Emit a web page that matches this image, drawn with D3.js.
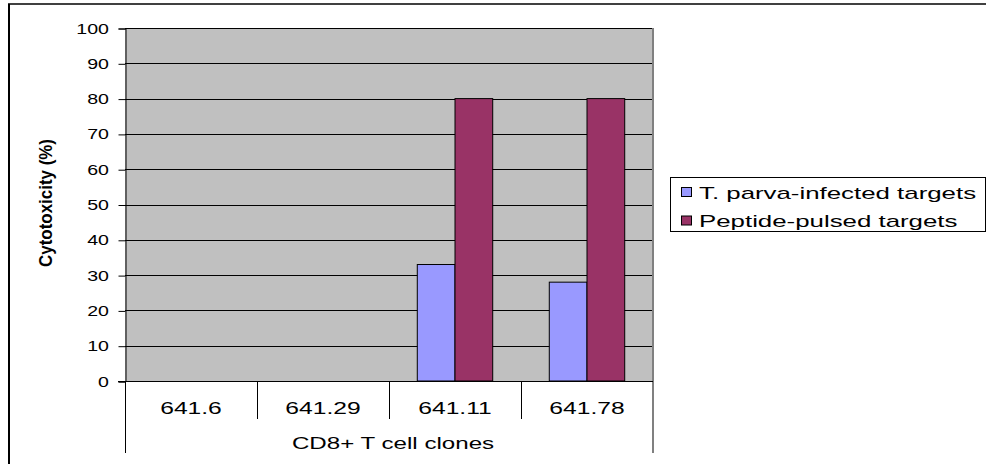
<!DOCTYPE html>
<html>
<head>
<meta charset="utf-8">
<script src="https://cdn.jsdelivr.net/npm/d3@7"></script>
<style>
  html, body { margin: 0; padding: 0; background: #fff; }
  svg { display: block; font-family: "Liberation Sans", Arial, sans-serif; }
</style>
</head>
<body>
<svg id="chart" width="986" height="464"></svg>
<script>
// Cytotoxicity of CD8+ T cell clones against two kinds of targets
const categories = ["641.6", "641.29", "641.11", "641.78"];
const seriesNames = ["T. parva-infected targets", "Peptide-pulsed targets"];
const infectedValues = [0, 0, 33, 28];
const peptideValues = [0, 0, 80, 80];
const yTicks = [0, 10, 20, 30, 40, 50, 60, 70, 80, 90, 100];
const colors = ["#9999FF", "#993366"];

const svg = d3.select("#chart");
const plot = { left: 125, top: 28, right: 653, bottom: 381 };

// text in this chart is drawn horizontally widened
function wideText(parent, x, y, str, size, sx, anchor) {
  return parent.append("text")
    .attr("transform", `translate(${x},${y}) scale(${sx},1)`)
    .attr("text-anchor", anchor || "start")
    .attr("font-size", size)
    .attr("fill", "#000")
    .text(str);
}

// outer frame (cropped at right and bottom)
svg.append("line").attr("x1", 8).attr("x2", 986).attr("y1", 4).attr("y2", 4)
  .attr("stroke", "#000").attr("stroke-width", 1.5);
svg.append("line").attr("x1", 9).attr("x2", 9).attr("y1", 4).attr("y2", 464)
  .attr("stroke", "#000").attr("stroke-width", 2);

const x = d3.scaleBand().domain(categories).range([plot.left, plot.right]).padding(0);
const xs = d3.scaleBand().domain(seriesNames).range([0, x.bandwidth()])
  .paddingInner(0).paddingOuter(0.75);
const y = d3.scaleLinear().domain([0, 100]).range([plot.bottom, plot.top]);

// plot background
svg.append("rect").attr("x", plot.left).attr("y", plot.top)
  .attr("width", plot.right - plot.left).attr("height", plot.bottom - plot.top)
  .attr("fill", "#C0C0C0");

// horizontal gridlines
svg.append("g").selectAll("line").data(yTicks.filter(d => d > 0)).join("line")
  .attr("x1", plot.left).attr("x2", plot.right)
  .attr("y1", d => Math.round(y(d)) + 0.5).attr("y2", d => Math.round(y(d)) + 0.5)
  .attr("stroke", "#000").attr("stroke-width", 1);

// y axis
const yAxis = d3.axisLeft(y).tickValues(yTicks).tickSize(7).tickFormat(() => "");
const gy = svg.append("g").attr("transform", `translate(${plot.left + 0.5},0.5)`).call(yAxis);
gy.select(".domain").attr("stroke", "#000");
gy.selectAll(".tick line").attr("stroke", "#000");
gy.selectAll(".tick text").remove();
const tickLabels = svg.append("g");
yTicks.forEach(t => wideText(tickLabels, 109, y(t) + 5.5, String(t), 14.5, 1.35, "end"));

// bars
const rows = categories.map((c, i) => ({ cat: c, vals: [infectedValues[i], peptideValues[i]] }));
const groups = svg.append("g").selectAll("g").data(rows).join("g")
  .attr("transform", d => `translate(${x(d.cat)},0)`);
groups.selectAll("rect")
  .data(d => d.vals.map((v, j) => ({ name: seriesNames[j], v, j })).filter(e => e.v > 0))
  .join("rect")
  .attr("x", d => xs(d.name))
  .attr("width", xs.bandwidth())
  .attr("y", d => y(d.v))
  .attr("height", d => y(0) - y(d.v))
  .attr("fill", d => colors[d.j])
  .attr("stroke", "#000").attr("stroke-width", 1);

// plot right border
svg.append("line").attr("x1", plot.right).attr("x2", plot.right)
  .attr("y1", plot.top).attr("y2", 453)
  .attr("stroke", "#808080").attr("stroke-width", 2);

// baseline
svg.append("line").attr("x1", plot.left - 7).attr("x2", plot.right)
  .attr("y1", plot.bottom + 0.5).attr("y2", plot.bottom + 0.5)
  .attr("stroke", "#000");

// category table lines
svg.append("line").attr("x1", plot.left + 0.5).attr("x2", plot.left + 0.5)
  .attr("y1", plot.bottom).attr("y2", 453).attr("stroke", "#000");
svg.append("g").selectAll("line").data(categories.slice(1)).join("line")
  .attr("x1", d => x(d) + 0.5).attr("x2", d => x(d) + 0.5)
  .attr("y1", plot.bottom).attr("y2", 419).attr("stroke", "#000");

// category labels
const catLabels = svg.append("g");
categories.forEach(c => wideText(catLabels, x(c) + x.bandwidth() / 2, 414, c, 17, 1.45, "middle"));

// x axis title
wideText(svg, 393, 449, "CD8+ T cell clones", 17, 1.42, "middle");

// y axis title (condensed, bold)
svg.append("text")
  .attr("transform", "translate(52,203) rotate(-90)")
  .attr("text-anchor", "middle")
  .attr("font-size", 19).attr("font-weight", "bold")
  .attr("textLength", 128).attr("lengthAdjust", "spacingAndGlyphs")
  .text("Cytotoxicity (%)");

// legend
const legend = svg.append("g");
legend.append("rect").attr("x", 670.5).attr("y", 177.5).attr("width", 315).attr("height", 54)
  .attr("fill", "#fff").attr("stroke", "#000");
seriesNames.forEach((name, i) => {
  const cy = 192.5 + i * 28.5;
  legend.append("rect").attr("x", 681.5).attr("y", cy - 5).attr("width", 10).attr("height", 9)
    .attr("fill", colors[i]).attr("stroke", "#000");
  wideText(legend, 699, cy + 6, name, 17, 1.52, "start");
});
</script>
</body>
</html>
